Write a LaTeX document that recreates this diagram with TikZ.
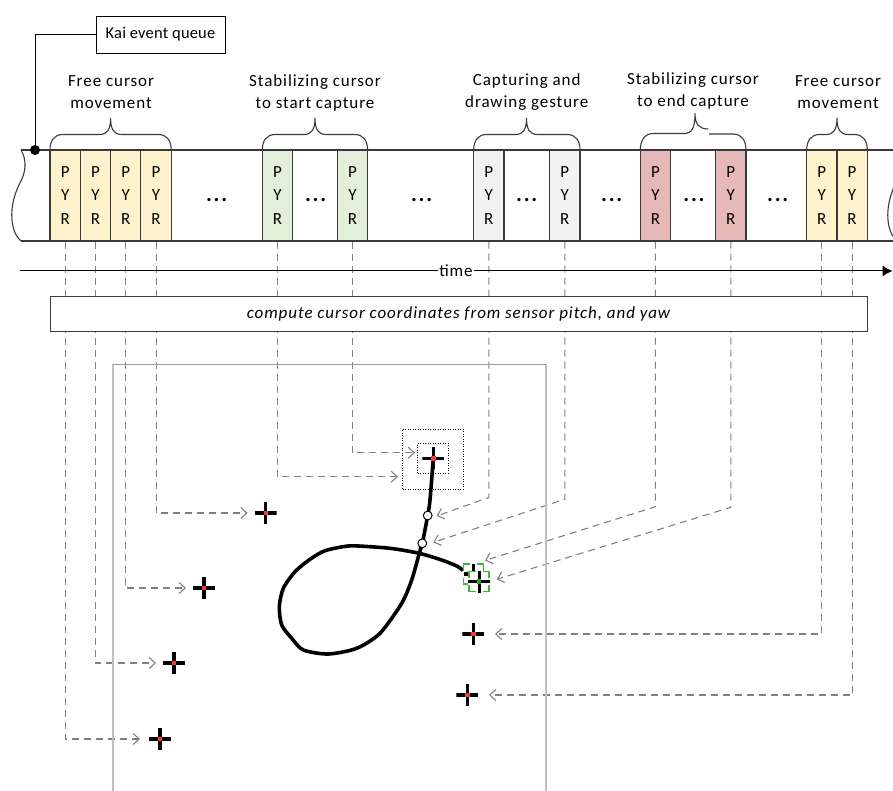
\documentclass[tikz,border=0pt]{standalone}
\usepackage{fontspec}
\setmainfont{Carlito}[LetterSpace=5.5]
\newfontfamily\tagfont{Carlito}[LetterSpace=1]
\usetikzlibrary{arrows.meta}

\definecolor{edgedark}{HTML}{3A3A3A}
\definecolor{flowgray}{HTML}{808080}
\definecolor{framegray}{HTML}{BFBFBF}
\definecolor{frametop}{HTML}{9A9A9A}
\definecolor{fillyellow}{HTML}{FFF2CC}
\definecolor{fillgreen}{HTML}{E2EFDA}
\definecolor{fillgray}{HTML}{F2F2F2}
\definecolor{fillred}{HTML}{E6B8B7}
\definecolor{markred}{HTML}{F03C3C}
\definecolor{markgreen}{HTML}{2DA02D}
\definecolor{boxgreen}{HTML}{3DB53D}

\pgfdeclarelayer{back}
\pgfsetlayers{back,main}

% curly brace over a group of samples: left x, tip x, right x
\newcommand\groupbrace[3]{%
  \draw[bracestyle] (#1,150) .. controls (#1,141) and ({#1+4},134.5) .. ({#1+13},134.5)
    -- ({#2-11},134.5) .. controls ({#2-3},134.5) and (#2,129) .. (#2,118)
    .. controls (#2,129) and ({#2+3},134.5) .. ({#2+11},134.5)
    -- ({#3-13},134.5) .. controls ({#3-4},134.5) and (#3,141) .. (#3,150);}

% wavy cut end of the queue tape
\newcommand\tapeend[1]{%
  \draw[queueline, shift={(#1,0)}] (21,150) .. controls (27,160) and (26,172) .. (20,183)
    .. controls (13,196) and (9,215) .. (14,230) .. controls (16,236) and (19,239) .. (21,241);}

% corner-bracket frame of a stabilized cursor position
\newcommand\lockframe[2]{%
  \draw[draw=boxgreen, line width=1.5pt, fill=white]
    ({#1-10},{#2-10}) rectangle ({#1+10},{#2+10});
  \draw[white, line width=2.6pt]
    ({#1-3.5},{#2-10}) -- ({#1+3.5},{#2-10}) ({#1-3.5},{#2+10}) -- ({#1+3.5},{#2+10})
    ({#1-10},{#2-3.5}) -- ({#1-10},{#2+3.5}) ({#1+10},{#2-3.5}) -- ({#1+10},{#2+3.5});}

\tikzset{
  queueline/.style={draw=edgedark, line width=1.1pt},
  bracestyle/.style={draw=edgedark, line width=1.1pt},
  sample/.style={draw=edgedark, line width=1.1pt, minimum width=30.3pt, minimum height=91pt,
    inner sep=0pt, align=center, font=\fontsize{17}{23.5}\selectfont},
  gap/.style={inner sep=0pt, font=\fontsize{22}{22}\selectfont\bfseries},
  grouplabel/.style={align=center, inner sep=0pt, font=\fontsize{17}{22}\selectfont},
  flow/.style={draw=flowgray, line width=1.1pt, dash pattern=on 7pt off 5pt,
    -{Straight Barb[length=6pt,width=11pt]}},
  xhair/.style={minimum size=22pt, inner sep=0pt, outer sep=0pt, path picture={
    \draw[solid, black, line width=3.2pt]
      (path picture bounding box.north) -- (path picture bounding box.south)
      (path picture bounding box.west) -- (path picture bounding box.east);
    \fill[solid, #1] ([shift={(-2.2pt,-2.2pt)}]path picture bounding box.center)
      rectangle ([shift={(2.2pt,2.2pt)}]path picture bounding box.center);}},
  dotbox/.style={draw=black, line width=0.9pt, dash pattern=on 1pt off 1.5pt, inner sep=0pt},
  knot/.style={circle, draw=black, fill=white, line width=1pt, minimum size=8.8pt, inner sep=0pt},
  gesture/.style={draw=black, line width=3.6pt, line join=round, line cap=round},
}

\begin{document}
\begin{tikzpicture}[x=1pt, y=-1pt, font=\fontsize{17}{22}\selectfont]
\useasboundingbox (0,0) rectangle (893,791);

% ---- event queue tape ----
\draw[queueline] (21,150) -- (900,150);
\draw[queueline] (21,241) -- (900,241);
\tapeend{0}
\tapeend{876}

% label of the queue
\node[draw=black, line width=0.9pt, minimum width=129pt, minimum height=37pt, inner sep=0pt,
  font=\fontsize{16.5}{20}\tagfont] (kai) at (160.5,34.5) {Kai event queue};
\node[circle, fill=black, minimum size=10pt, inner sep=0pt] (qdot) at (35,150) {};
\draw[black, line width=1pt] (kai.west) -| (qdot);

% ---- sensor samples (pitch, yaw, roll) ----
\node[sample, fill=fillyellow] (y1) at (65.15,195.5) {P\\Y\\R};
\node[sample, fill=fillyellow] (y2) at (95.45,195.5) {P\\Y\\R};
\node[sample, fill=fillyellow] (y3) at (125.75,195.5) {P\\Y\\R};
\node[sample, fill=fillyellow] (y4) at (156.05,195.5) {P\\Y\\R};
\node[sample, fill=fillgreen] (g1) at (277.4,195.5) {P\\Y\\R};
\node[sample, fill=fillgreen] (g2) at (352.4,195.5) {P\\Y\\R};
\node[sample, fill=fillgray] (w1) at (488.8,195.5) {P\\Y\\R};
\node[sample, fill=fillgray] (w2) at (564.8,195.5) {P\\Y\\R};
\node[sample, fill=fillred] (r1) at (655.4,195.5) {P\\Y\\R};
\node[sample, fill=fillred] (r2) at (730.8,195.5) {P\\Y\\R};
\node[sample, fill=fillyellow] (y5) at (821.8,195.5) {P\\Y\\R};
\node[sample, fill=fillyellow] (y6) at (852.1,195.5) {P\\Y\\R};

\node[gap] (e1) at (216.7,200) {.\kern1.8pt.\kern1.8pt.};
\node[gap] (e2) at (315.7,200) {.\kern1.8pt.\kern1.8pt.};
\node[gap] (e3) at (421.7,200) {.\kern1.8pt.\kern1.8pt.};
\node[gap] (e4) at (526.7,200) {.\kern1.8pt.\kern1.8pt.};
\node[gap] (e5) at (611.7,200) {.\kern1.8pt.\kern1.8pt.};
\node[gap] (e6) at (694,200) {.\kern1.8pt.\kern1.8pt.};
\node[gap] (e7) at (777.7,200) {.\kern1.8pt.\kern1.8pt.};

% ---- phase braces and labels ----
\groupbrace{50}{110.6}{171.2}
\groupbrace{262.3}{315}{367.6}
\groupbrace{473.7}{526.5}{580}
\groupbrace{806.7}{837}{867.3}
% end-capture brace, drawn in two pieces
\draw[bracestyle] (640.3,150) .. controls (640.3,141) and (644.3,133.5) .. (653.3,133.5)
  -- (684,133.5) .. controls (692,133.5) and (695,128) .. (695,113.3)
  .. controls (695,124) and (699,129) .. (708.3,129);
\draw[bracestyle] (709,134) -- (733,134) .. controls (742,134) and (746,141) .. (746,150);

\node[grouplabel] (l1) at (111,92.5) {Free cursor\\movement};
\node[grouplabel] (l2) at (315,92.5) {Stabilizing cursor\\to start capture};
\node[grouplabel] (l3) at (526.7,92.5) {Capturing and\\drawing gesture};
\node[grouplabel] (l4) at (693,90.5) {Stabilizing cursor\\to end capture};
\node[grouplabel] (l5) at (838,92.5) {Free cursor\\movement};

% ---- time axis ----
\coordinate (t0) at (20,271);
\coordinate (t1) at (892.5,271);
\draw[black, line width=1pt, -{Latex[length=10pt,width=11pt]}] (t0) -- (t1);
\node[fill=white, inner sep=1.2pt] (tl) at (456,271) {time};

% ---- coordinate computation ----
\node[draw=edgedark, fill=white, line width=1pt, minimum width=817pt, minimum height=35pt, inner sep=0pt]
  (cmp) at (458.5,314.3) {\itshape compute cursor coordinates from sensor pitch, and yaw};

% ---- screen area ----
\draw[framegray, line width=1.5pt] (113,791) -- (113,364.3);
\draw[framegray, line width=1.5pt] (546,364.3) -- (546,791);
\draw[frametop, line width=1.3pt] (113,364.3) -- (546,364.3);

% stabilization windows at capture start
\node[dotbox, minimum width=60.6pt, minimum height=60pt] (ob) at (433,459) {};
\node[dotbox, minimum width=30.6pt, minimum height=30pt] (ib) at (433,458.3) {};

% captured gesture stroke
\draw[gesture] plot[smooth, tension=0.45] coordinates {
  (433.3,458.3) (430,500) (427.7,515.5) (422.3,543.3) (419.3,553.3) (411.7,580)
  (401.7,603.3) (380,633.3) (356.7,648.3) (328.3,654) (303.3,650) (291.7,638.3)
  (281.7,625) (279.3,606.7) (283.3,588.3) (295,571.7) (310,559.3) (325,550.7)
  (348.3,546) (370,546.7) (393.3,548.7) (419.3,553.3) (441.7,560) (456.7,566)
  (463.3,570.7)};
\node[knot] (k1) at (427.7,515.5) {};
\node[knot] (k2) at (422.3,543.3) {};

% cursor positions
\node[xhair=markred] (cA) at (160,739) {};
\node[xhair=markred] (cB) at (174,663) {};
\node[xhair=markred] (cC) at (204,588) {};
\node[xhair=markred] (cD) at (265.7,513) {};
\node[xhair=markred] (cE) at (433.3,458.3) {};
\node[xhair=markred] (cF) at (473.3,634) {};
\node[xhair=markred] (cG) at (467.3,695) {};
% stabilized end position: two overlapping locked samples
\lockframe{473.5}{574}
\node[xhair=markgreen, minimum size=20pt] (cH) at (473.5,574) {};
\lockframe{479.2}{581.5}
\node[xhair=markgreen, minimum size=22pt] (cI) at (479.2,581.5) {};

% arrow ends and bends of the mapping lines
\coordinate (tg1) at (398,476.7);
\coordinate (tg2) at (415,452.7);
\coordinate (kw1) at (488.8,497.5);
\coordinate (tw1) at (436.7,516);
\coordinate (kw2) at (564.8,499.3);
\coordinate (tw2) at (433.3,542.3);
\coordinate (kr1) at (655.4,506.7);
\coordinate (tr1) at (485,560.5);
\coordinate (kr2) at (730.8,507.3);
\coordinate (tr2) at (496.7,579.3);

\begin{pgfonlayer}{back}
\draw[flow, shorten >=9pt] (y1.south) |- (cA.west);
\draw[flow, shorten >=7pt] (y2.south) |- (cB.west);
\draw[flow, shorten >=7pt] (y3.south) |- (cC.west);
\draw[flow, shorten >=7pt] (y4.south) |- (cD.west);
\draw[flow] (g1.south) |- (tg1);
\draw[flow] (g2.south) |- (tg2);
\draw[flow] (w1.south) -- (kw1) -- (tw1);
\draw[flow] (w2.south) -- (kw2) -- (tw2);
\draw[flow] (r1.south) -- (kr1) -- (tr1);
\draw[flow] (r2.south) -- (kr2) -- (tr2);
\draw[flow, shorten >=10.7pt] (y5.south) |- (cF.east);
\draw[flow, shorten >=10.7pt] (y6.south) |- (cG.east);
\end{pgfonlayer}
\end{tikzpicture}
\end{document}
